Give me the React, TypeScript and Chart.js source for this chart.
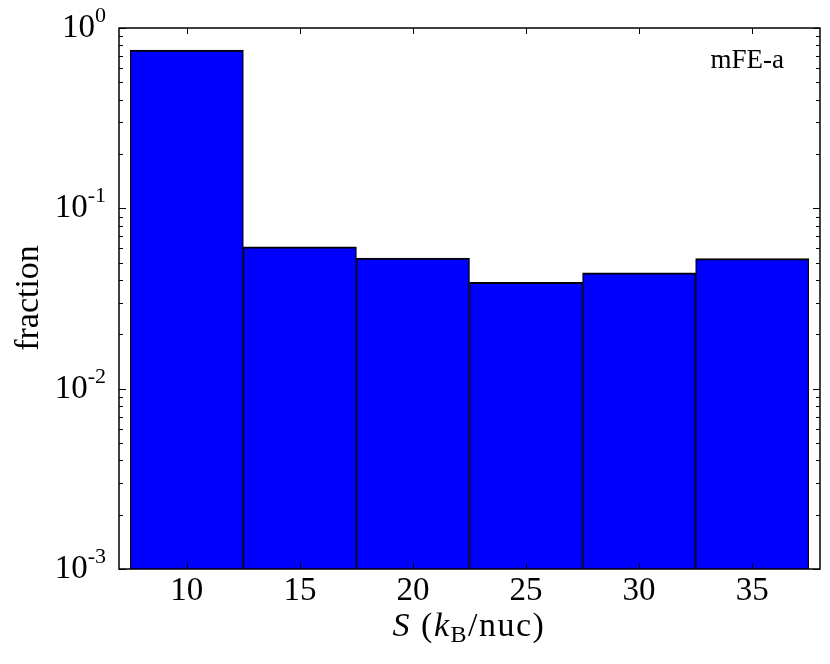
import React, { useEffect, useRef } from "react";
import { Chart, registerables } from "chart.js";

Chart.register(...registerables);

// Data
const binCenters = [10, 15, 20, 25, 30, 35];
const fractions = [0.755, 0.0612, 0.053, 0.0389, 0.0439, 0.0526];
const xTicks = [10, 15, 20, 25, 30, 35];
const yTickExponents = [0, -1, -2, -3];
const yLabel = "fraction";
const annotation = "mFE-a";

const FONT = "'Liberation Serif', 'Times New Roman', serif";

const decorPlugin = {
  id: "decor",
  afterDatasetsDraw(chart: any) {
    const { ctx, chartArea } = chart;
    const { left, right, top, bottom } = chartArea;
    const xs = chart.scales.x;
    const ys = chart.scales.y;
    ctx.save();
    // frame
    ctx.strokeStyle = "#000";
    ctx.lineWidth = 1.5;
    ctx.strokeRect(left, top, right - left, bottom - top);

    ctx.lineWidth = 1;
    // x ticks (top and bottom, inward)
    xTicks.forEach((v) => {
      const px = Math.round(xs.getPixelForValue(v)) + 0.5;
      ctx.beginPath();
      ctx.moveTo(px, bottom);
      ctx.lineTo(px, bottom - 6);
      ctx.moveTo(px, top);
      ctx.lineTo(px, top + 6);
      ctx.stroke();
    });
    // y ticks major + minor (left and right, inward)
    for (let e = -3; e <= 0; e++) {
      const py = Math.round(ys.getPixelForValue(Math.pow(10, e))) + 0.5;
      ctx.beginPath();
      ctx.moveTo(left, py);
      ctx.lineTo(left + 7, py);
      ctx.moveTo(right, py);
      ctx.lineTo(right - 7, py);
      ctx.stroke();
      if (e < 0) {
        for (let m = 2; m <= 9; m++) {
          const pm = Math.round(ys.getPixelForValue(m * Math.pow(10, e))) + 0.5;
          ctx.beginPath();
          ctx.moveTo(left, pm);
          ctx.lineTo(left + 4, pm);
          ctx.moveTo(right, pm);
          ctx.lineTo(right - 4, pm);
          ctx.stroke();
        }
      }
    }

    ctx.fillStyle = "#000";
    // x tick labels
    ctx.font = `33px ${FONT}`;
    ctx.textAlign = "center";
    ctx.textBaseline = "alphabetic";
    xTicks.forEach((v) => {
      ctx.fillText(String(v), xs.getPixelForValue(v), bottom + 31);
    });

    // y tick labels 10^e
    yTickExponents.forEach((e) => {
      const py = ys.getPixelForValue(Math.pow(10, e));
      const base = py + 9;
      ctx.textAlign = "right";
      ctx.font = `22px ${FONT}`;
      const expStr = String(e);
      const xr = left - 13;
      ctx.fillText(expStr, xr, base - 15);
      const ew = ctx.measureText(expStr).width;
      ctx.font = `33px ${FONT}`;
      ctx.fillText("10", xr - ew, base);
    });

    // y axis title
    ctx.save();
    ctx.translate(38, 298);
    ctx.rotate(-Math.PI / 2);
    ctx.font = `34px ${FONT}`;
    ctx.textAlign = "center";
    ctx.fillText(yLabel, 0, 0);
    ctx.restore();

    // x axis title: S (k_B/nuc)
    ctx.save();
    try { (ctx as any).letterSpacing = "1.5px"; } catch (err) {}
    const parts = [
      { t: "S", f: `italic 34px ${FONT}`, dy: 0 },
      { t: " (", f: `34px ${FONT}`, dy: 0 },
      { t: "k", f: `italic 34px ${FONT}`, dy: 0 },
      { t: "B", f: `24px ${FONT}`, dy: 6 },
      { t: "/nuc)", f: `34px ${FONT}`, dy: 0 },
    ];
    let total = 0;
    parts.forEach((p) => {
      ctx.font = p.f;
      total += ctx.measureText(p.t).width;
    });
    let x0 = 469 - total / 2;
    ctx.textAlign = "left";
    parts.forEach((p) => {
      ctx.font = p.f;
      ctx.fillText(p.t, x0, 636 + p.dy);
      x0 += ctx.measureText(p.t).width;
    });
    ctx.restore();

    // annotation
    ctx.font = `27px ${FONT}`;
    ctx.textAlign = "right";
    ctx.fillText(annotation, 784, 68);
    ctx.restore();
  },
};

export default function App() {
  const ref = useRef<HTMLCanvasElement>(null);
  useEffect(() => {
    if (!ref.current) return;
    const chart = new Chart(ref.current, {
      type: "bar",
      data: {
        datasets: [
          {
            data: binCenters.map((x, i) => ({ x, y: fractions[i] })),
            backgroundColor: "#0000ff",
            borderColor: "#000000",
            borderWidth: { top: 2, left: 1.3, right: 1.3, bottom: 0 },
            borderSkipped: false,
            barPercentage: 1,
            categoryPercentage: 1,
          } as any,
        ],
      },
      options: {
        responsive: false,
        animation: false,
        layout: { padding: { left: 119, top: 28, right: 10, bottom: 95 } },
        plugins: { legend: { display: false }, tooltip: { enabled: false } },
        scales: {
          x: {
            type: "linear",
            min: 7,
            max: 38,
            display: false,
            offset: false,
            afterBuildTicks: (s: any) => {
              s.ticks = xTicks.map((v) => ({ value: v }));
            },
          },
          y: { type: "logarithmic", min: 0.001, max: 1, display: false },
        },
      },
      plugins: [decorPlugin],
    });
    return () => chart.destroy();
  }, []);
  return (
    <div style={{ position: "absolute", left: 0, top: 0, width: 830, height: 664, background: "#fff" }}>
      <canvas ref={ref} width={830} height={664} />
    </div>
  );
}
